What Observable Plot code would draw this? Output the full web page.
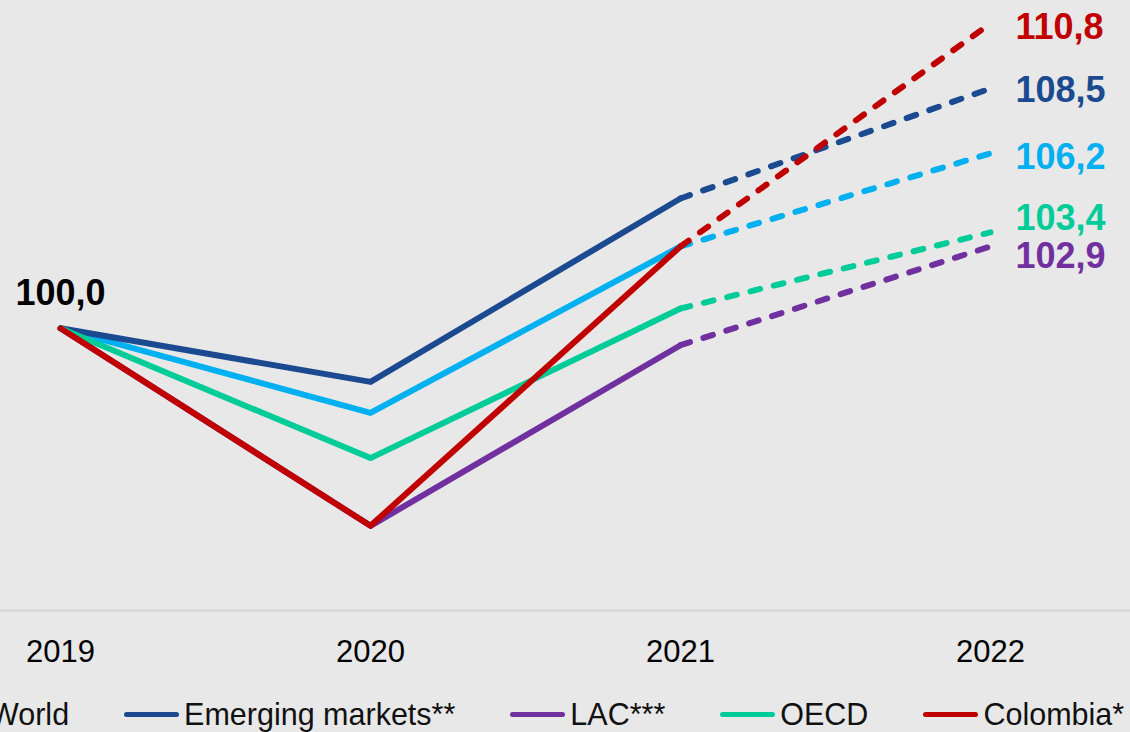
<!DOCTYPE html>
<html>
<head>
<meta charset="utf-8">
<script src="https://cdn.jsdelivr.net/npm/d3@7"></script>
<script src="https://cdn.jsdelivr.net/npm/@observablehq/plot@0.6"></script>
<style>
  html, body { margin: 0; padding: 0; background: #e8e8e8; width: 1130px; height: 732px; overflow: hidden; position: relative; font-family: "Liberation Sans", Arial, sans-serif; }
  #chart { position: absolute; left: 0; top: 0; }
  #legend { position: absolute; top: 697px; left: -70px; display: flex; align-items: center; white-space: nowrap; font-size: 30.5px; color: #111; }
  #legend .item { display: flex; align-items: center; margin-right: 55px; }
  #legend .swatch { display: inline-block; width: 55px; height: 5px; border-radius: 3px; margin-right: 5px; }
</style>
</head>
<body>
<div id="chart"></div>
<div id="legend"></div>
<script>
// ---- Data ----
const years = [2019, 2020, 2021, 2022];
const seriesNames = ["World", "Emerging markets**", "LAC***", "OECD", "Colombia*"];
const seriesColors = ["#00b0f0", "#1b4a91", "#7030a0", "#00cc99", "#c00000"];
const world     = [100, 97.0, 102.9, 106.2];
const emerging  = [100, 98.1, 104.6, 108.5];
const lac       = [100, 93.0, 99.4, 102.9];
const oecd      = [100, 95.4, 100.7, 103.4];
const colombia  = [100, 93.0, 102.9, 110.8];
const startLabel = "100,0";

// ---- Build table ----
const valuesBySeries = [world, emerging, lac, oecd, colombia];
const rows = [];
seriesNames.forEach((name, s) => {
  years.forEach((yr, i) => rows.push({ series: name, year: yr, value: valuesBySeries[s][i] }));
});
const solid = rows.filter(d => d.year <= 2021);
const dashed = rows.filter(d => d.year >= 2021);
const endRows = rows.filter(d => d.year === 2022);
const startRows = rows.filter(d => d.year === 2019 && d.series === "World");

// label nudges (style only)
const nudge = { "World": 4, "Emerging markets**": 2, "LAC***": 10, "OECD": -14, "Colombia*": 4 };
const fmt = v => v.toFixed(1).replace(".", ",");
const FONT = "'Liberation Sans', Arial, sans-serif";

const chart = Plot.plot({
  width: 1130,
  height: 680,
  marginLeft: 0,
  marginRight: 0,
  marginTop: 0,
  marginBottom: 70,
  style: { background: "transparent", fontFamily: FONT, color: "#000", overflow: "visible" },
  x: { domain: [2019, 2022], range: [60, 990], label: null },
  y: { domain: [90, 110.8], range: [610, 23], axis: null },
  color: { domain: seriesNames, range: seriesColors },
  marks: [
    Plot.ruleY([90], { stroke: "#d4d4d4", strokeWidth: 2 }),
    Plot.axisX(years, { tickSize: 0, tickPadding: 29, fontSize: 31, tickFormat: d => String(d), label: null, fill: "#000" }),
    Plot.line(solid, { x: "year", y: "value", z: "series", stroke: "series", strokeWidth: 6, strokeLinejoin: "round", strokeLinecap: "round" }),
    Plot.line(dashed, { x: "year", y: "value", z: "series", stroke: "series", strokeWidth: 6, strokeLinecap: "round", strokeDasharray: "10,14" }),
    ...seriesNames.map(name =>
      Plot.text(endRows.filter(d => d.series === name), {
        x: "year", y: "value", text: d => fmt(d.value), fill: "series",
        textAnchor: "start", dx: 25, dy: nudge[name], fontSize: 36, fontWeight: "bold"
      })
    ),
    Plot.text(startRows, { x: "year", y: "value", text: () => startLabel, fill: "#000", textAnchor: "middle", dy: -35, fontSize: 36, fontWeight: "bold" })
  ]
});
document.getElementById("chart").appendChild(chart);

// Legend
const legend = document.getElementById("legend");
seriesNames.forEach((name, i) => {
  const item = document.createElement("div");
  item.className = "item";
  const sw = document.createElement("span");
  sw.className = "swatch";
  sw.style.background = seriesColors[i];
  const tx = document.createElement("span");
  tx.textContent = name;
  item.appendChild(sw);
  item.appendChild(tx);
  legend.appendChild(item);
});
</script>
</body>
</html>
